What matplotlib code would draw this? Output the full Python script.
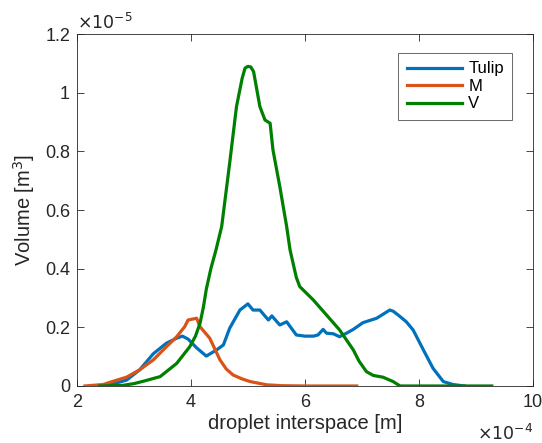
import matplotlib
matplotlib.use("Agg")
import matplotlib.pyplot as plt
import numpy as np

plt.rcParams['font.family'] = ['Liberation Sans', 'DejaVu Sans']

# x in units of 1e-4 m, y in units of 1e-5 m^3
tulip_x = [2.50, 2.87, 3.10, 3.34, 3.57, 3.75, 3.85, 3.95, 4.10, 4.27, 4.45, 4.57, 4.68, 4.86, 5.00, 5.09,
           5.21, 5.36, 5.42, 5.56, 5.68, 5.85, 6.00, 6.15, 6.23, 6.32, 6.38, 6.50, 6.61, 6.73, 6.85, 7.02,
           7.26, 7.49, 7.55, 7.65, 7.78, 7.90, 8.08, 8.25, 8.43, 8.60, 8.80]
tulip_y = [0.00, 0.02, 0.055, 0.11, 0.146, 0.163, 0.17, 0.16, 0.13, 0.102, 0.123, 0.14, 0.197, 0.259, 0.28, 0.259,
           0.259, 0.225, 0.239, 0.208, 0.219, 0.174, 0.17, 0.17, 0.174, 0.193, 0.18, 0.178, 0.168, 0.18, 0.193, 0.216,
           0.231, 0.259, 0.255, 0.24, 0.219, 0.191, 0.123, 0.06, 0.015, 0.005, 0.0]

m_x = [2.14, 2.46, 2.70, 2.87, 3.10, 3.34, 3.57, 3.75, 3.89, 3.95, 4.10, 4.16, 4.33, 4.51, 4.62, 4.74, 4.90, 5.04,
       5.33, 5.60, 6.00, 6.91]
m_y = [0.0, 0.005, 0.02, 0.03, 0.055, 0.089, 0.134, 0.168, 0.202, 0.225, 0.231, 0.202, 0.163, 0.089, 0.058, 0.0375,
       0.024, 0.015, 0.004, 0.001, 0.0, 0.0]

v_x = [2.40, 2.80, 3.00, 3.20, 3.46, 3.75, 3.98, 4.08, 4.16, 4.22, 4.27, 4.35, 4.44, 4.54, 4.68, 4.80, 4.90, 4.95,
       5.00, 5.05, 5.10, 5.21, 5.30, 5.39, 5.44, 5.56, 5.68, 5.74, 5.85, 5.91, 6.15, 6.38, 6.61, 6.85, 6.95, 7.08,
       7.20, 7.37, 7.55, 7.67, 8.00, 9.28]
v_y = [0.0, 0.002, 0.008, 0.018, 0.032, 0.077, 0.134, 0.17, 0.214, 0.27, 0.33, 0.40, 0.464, 0.544, 0.76, 0.953,
       1.05, 1.084, 1.09, 1.088, 1.072, 0.953, 0.907, 0.896, 0.805, 0.68, 0.544, 0.464, 0.37, 0.339, 0.293, 0.242,
       0.191, 0.123, 0.085, 0.049, 0.036, 0.030, 0.015, 0.0, 0.0, 0.0]

labels = ['Tulip', 'M', 'V']
colors = ['#0072BD', '#D95319', '#008000']

fig = plt.figure(figsize=(5.42, 4.43), dpi=100)
ax = fig.add_axes([0.142, 0.1287, 0.841, 0.7943])
for (x, y), lab, c in zip([(tulip_x, tulip_y), (m_x, m_y), (v_x, v_y)], labels, colors):
    ax.plot(x, y, color=c, lw=2.3, label=lab)

ax.set_xlim(2, 10)
ax.set_ylim(0, 1.2)
ax.set_xticks([2, 4, 6, 8, 10])
ax.set_yticks([0, 0.2, 0.4, 0.6, 0.8, 1.0, 1.2])
ax.set_xticklabels(['2', '4', '6', '8', '10'])
ax.set_yticklabels(['0', '0.2', '0.4', '0.6', '0.8', '1', '1.2'])
ax.tick_params(direction='in', top=True, right=True, labelsize=13, colors='#262626', length=5, width=0.6)
ax.tick_params(axis='x', pad=6)
ax.tick_params(axis='y', pad=5)
for s in ax.spines.values():
    s.set_color('#262626')
    s.set_linewidth(0.6)
ax.set_xlabel('droplet interspace [m]', fontsize=14.5, color='#262626', labelpad=2)
ax.set_ylabel('Volume [m$^3$]', fontsize=14.5, color='#262626', labelpad=6)
ax.text(0.0, 1.005, r'$\times10^{-5}$', transform=ax.transAxes, fontsize=12.5, color='#262626', ha='left', va='bottom')
ax.text(1.0, -0.105, r'$\times10^{-4}$', transform=ax.transAxes, fontsize=12.5, color='#262626', ha='right', va='top')

leg = ax.legend(loc='upper right', bbox_to_anchor=(0.955, 0.946), fontsize=12, frameon=True, fancybox=False,
                edgecolor='#262626', handlelength=3.3, handletextpad=0.4, borderpad=0.5, labelspacing=0.15,
                borderaxespad=0)
leg.get_frame().set_linewidth(0.6)

fig.savefig('out.png', dpi=100)
